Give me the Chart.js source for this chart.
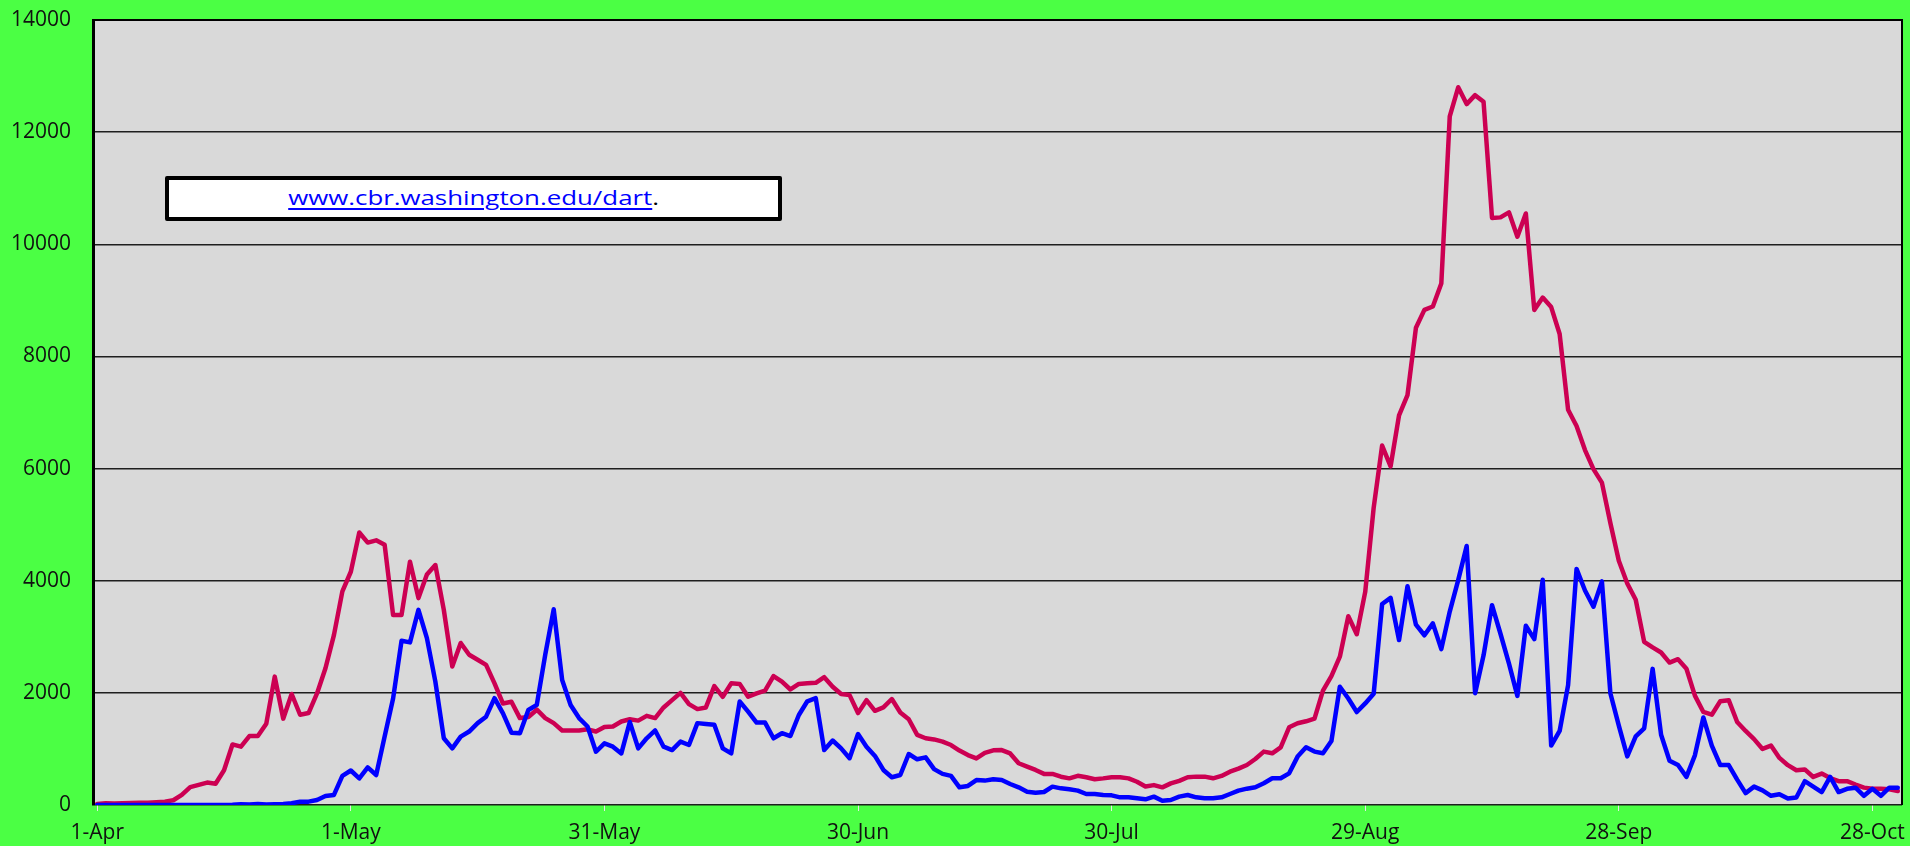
<!DOCTYPE html>
<html>
<head>
<meta charset="utf-8">
<title>Daily counts, 1-Apr to 1-Nov</title>
<script src="https://cdn.jsdelivr.net/npm/chart.js@4/dist/chart.umd.min.js"></script>
<style>
  html, body { margin: 0; padding: 0; background: #4bff44; overflow: hidden; }
  #wrap { position: relative; width: 1910px; height: 846px; }
  #note {
    position: absolute; left: 165px; top: 176px; width: 617px; height: 45px;
    box-sizing: border-box; border: 4px solid #000; border-radius: 2px; background: #fff;
    text-align: center; font-family: "Open Sans", "Liberation Sans", sans-serif;
    font-size: 20px; line-height: 36px; color: #000;
  }
  #note span { display: inline-block; transform-origin: 50% 50%; }
  #note a { color: #0000ff; text-decoration: underline; text-underline-offset: 3px; }
</style>
</head>
<body>
<div id="wrap">
  <canvas id="chart" width="1910" height="846"></canvas>
  <div id="note"><span id="noteText"><a id="noteLink" href="http://www.cbr.washington.edu/dart">www.cbr.washington.edu/dart</a>.</span></div>
</div>
<script>
"use strict";

// calendar used for the x categories (one per day from 1-Apr)
var months = ['Apr', 'May', 'Jun', 'Jul', 'Aug', 'Sep', 'Oct', 'Nov'];
var monthDays = [30, 31, 30, 31, 31, 30, 31, 30];
var dayCount = 214;
var labelEvery = 30;   // 1-Apr, 1-May, 31-May, ... 28-Oct

var yMax = 14000;
var yStep = 2000;

// daily counts, 1-Apr onwards
var redCounts = [
    20, 30, 25, 30, 35, 40, 40, 50, 60, 85,
    180, 320, 360, 400, 380, 620, 1080, 1040, 1230, 1230,
    1450, 2290, 1540, 1980, 1610, 1640, 1990, 2440, 3030, 3810,
    4160, 4860, 4680, 4720, 4640, 3390, 3390, 4340, 3690, 4110,
    4280, 3480, 2470, 2890, 2680, 2590, 2500, 2170, 1810, 1840,
    1550, 1570, 1700, 1550, 1460, 1330, 1330, 1330, 1350, 1310,
    1390, 1400, 1490, 1530, 1505, 1590, 1550, 1740, 1870, 2000,
    1800, 1710, 1740, 2120, 1930, 2170, 2160, 1930, 1990, 2040,
    2300, 2200, 2060, 2160, 2170, 2180, 2280, 2110, 1980, 1960,
    1640, 1870, 1680, 1740, 1890, 1650, 1530, 1250, 1190, 1170,
    1130, 1070, 970, 890, 830, 930, 975, 980, 920, 745,
    685, 625, 555, 555, 505, 475, 520, 495, 460, 475,
    495, 495, 475, 415, 330, 355, 315, 385, 430, 494,
    506, 506, 476, 518, 595, 648, 714, 821, 952, 922,
    1029, 1386, 1457, 1493, 1541, 2040, 2300, 2645, 3365, 3045,
    3800, 5300, 6410, 6040, 6950, 7310, 8510, 8830, 8890, 9300,
    12280, 12800, 12500, 12660, 12540, 10470, 10480, 10570, 10135, 10550,
    8830, 9050, 8880, 8400, 7050, 6760, 6330, 5990, 5750, 5030,
    4355, 3950, 3660, 2910, 2810, 2720, 2540, 2600, 2430, 1950,
    1660, 1610, 1850, 1870, 1480, 1320, 1175, 1000, 1060, 840,
    710, 620, 635, 500, 560, 480, 425, 425, 365, 310,
    290, 290, 280, 250
];

var blueCounts = [
    0, 0, 0, 0, 0, 0, 0, 0, 0, 0,
    0, 0, 0, 0, 0, 0, 5, 15, 10, 20,
    10, 15, 20, 30, 60, 60, 90, 160, 180, 520,
    615, 475, 670, 535, 1220, 1900, 2930, 2900, 3480, 2975,
    2200, 1190, 1010, 1220, 1310, 1460, 1575, 1905, 1635, 1290,
    1280, 1695, 1785, 2680, 3490, 2230, 1785, 1550, 1400, 950,
    1100, 1040, 920, 1480, 1010, 1190, 1330, 1040, 980, 1130,
    1070, 1460, 1445, 1430, 1010, 920, 1845, 1665, 1470, 1470,
    1190, 1280, 1230, 1605, 1850, 1905, 980, 1150, 1010, 835,
    1265, 1040, 875, 625, 495, 535, 910, 815, 850, 640,
    555, 520, 315, 340, 445, 435, 460, 446, 375, 315,
    238, 220, 232, 327, 297, 280, 256, 196, 196, 178,
    172, 137, 137, 119, 101, 149, 77, 89, 149, 178,
    137, 119, 119, 137, 196, 256, 291, 315, 387, 476,
    476, 565, 863, 1029, 952, 922, 1140, 2110, 1900, 1658,
    1812, 1983, 3584, 3695, 2942, 3901, 3216, 3027, 3240, 2780,
    3450, 4010, 4620, 1994, 2669, 3564, 3054, 2524, 1946, 3198,
    2958, 4017, 1060, 1320, 2139, 4210, 3825, 3536, 3988, 1994,
    1416, 867, 1223, 1368, 2428, 1252, 790, 713, 501, 886,
    1561, 1060, 713, 713, 453, 212, 328, 260, 164, 193,
    116, 135, 424, 328, 231, 501, 231, 289, 308, 164,
    289, 164, 308, 308
];

function buildDays() {
    var out = [], m = 0, d = 1;
    for (var i = 0; i < dayCount; i++) {
        out.push(d + '-' + months[m]);
        d++;
        if (d > monthDays[m]) { d = 1; m++; }
    }
    return out;
}
var days = buildDays();

// the link text in the reference is stretched sideways; match its width
var linkWidth = 364;
function stretchNote() {
    var w = document.getElementById('noteLink').offsetWidth;
    if (w > 0) {
        document.getElementById('noteText').style.transform = 'scaleX(' + (linkWidth / w).toFixed(3) + ')';
    }
}
stretchNote();

var tickFont = { family: '"Open Sans", "Liberation Sans", sans-serif', size: 21 };

// grey plot area plus the black frame on top and right
var plotFrame = {
    id: 'plotFrame',
    beforeDraw: function(chart) {
        var a = chart.chartArea, c = chart.ctx;
        c.save();
        c.fillStyle = '#d9d9d9';
        c.fillRect(a.left, a.top, a.right - a.left, a.bottom - a.top);
        c.restore();
    },
    afterDraw: function(chart) {
        var a = chart.chartArea, c = chart.ctx;
        c.save();
        c.strokeStyle = '#000';
        c.lineWidth = 2;
        c.beginPath();
        c.moveTo(a.left, a.top);
        c.lineTo(a.right, a.top);
        c.lineTo(a.right, a.bottom);
        c.stroke();
        c.restore();
    }
};

var lineStyle = {
    borderWidth: 4.5,
    pointRadius: 0,
    tension: 0,
    fill: false,
    borderJoinStyle: 'round',
    borderCapStyle: 'round'
};

var chart = new Chart(document.getElementById('chart').getContext('2d'), {
    type: 'line',
    data: {
        labels: days,
        datasets: [
            Object.assign({ label: 'blue', data: blueCounts, borderColor: '#0000ff' }, lineStyle),
            Object.assign({ label: 'red', data: redCounts, borderColor: '#cc0052' }, lineStyle)
        ]
    },
    options: {
        responsive: false,
        animation: false,
        layout: { padding: { left: 0, right: 8, top: 20, bottom: 0 } },
        plugins: {
            legend: { display: false },
            tooltip: { enabled: false }
        },
        scales: {
            x: {
                type: 'category',
                offset: true,
                grid: {
                    display: true, drawOnChartArea: false, drawTicks: true,
                    tickLength: 6, color: '#e8e8e8', offset: false
                },
                border: { display: false },
                ticks: { autoSkip: false, maxRotation: 0, padding: 9, color: '#111', font: tickFont },
                afterBuildTicks: function(axis) {
                    axis.ticks = axis.ticks.filter(function(t) { return t.value % labelEvery === 0; });
                },
                afterFit: function(axis) {
                    axis.height = 41;
                    axis.paddingLeft = 0;
                    axis.paddingRight = 0;
                }
            },
            y: {
                min: 0,
                max: yMax,
                grid: { color: '#1e1e1e', lineWidth: 1.5, drawTicks: false },
                border: { color: '#000', width: 3 },
                ticks: {
                    stepSize: yStep, padding: 22, color: '#111', font: tickFont,
                    callback: function(v) { return String(v); }
                },
                afterFit: function(axis) {
                    axis.width = 93;
                    axis.paddingTop = 0;
                    axis.paddingBottom = 0;
                }
            }
        }
    },
    plugins: [plotFrame]
});
</script>
</body>
</html>
